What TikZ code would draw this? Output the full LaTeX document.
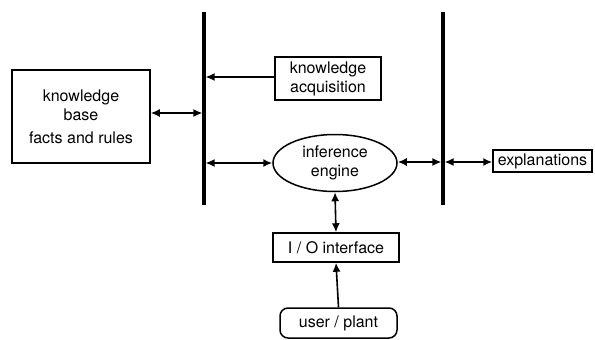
\documentclass[tikz,border=0pt]{standalone}
\usepackage{fontspec}
\setmainfont{TeX Gyre Heros}
\usetikzlibrary{arrows.meta}
\usetikzlibrary{shapes.geometric}

\begin{document}
\begin{tikzpicture}[x=1pt, y=-1pt,
	box/.style={draw, line width=1.5pt, align=center, inner sep=2pt,
		font=\fontsize{16}{19}\selectfont},
	engine/.style={box, ellipse, minimum width=124pt, minimum height=57pt},
	bar/.style={line width=3.2pt},
	link/.style={line width=1.6pt, {Latex[length=9pt,width=8pt]}-{Latex[length=9pt,width=8pt]}},
	feed/.style={line width=1.6pt, -{Latex[length=9pt,width=8pt]}}]

	\useasboundingbox (0,0) rectangle (595,340);

	% the two bus bars
	\coordinate (lbtop) at (204,12);
	\coordinate (lbbot) at (204,205);
	\coordinate (rbtop) at (443,12);
	\coordinate (rbbot) at (443,205);
	\draw[bar] (lbtop) -- (lbbot);
	\draw[bar] (rbtop) -- (rbbot);

	% blocks
	\node[box, minimum width=138pt, minimum height=93pt] (kb) at (81,116.5)
		{knowledge\\base\\[4pt]facts and rules};
	\node[box, minimum width=106pt, minimum height=43pt] (acq) at (328,78.5)
		{knowledge\\acquisition};
	\node[engine] (inf) at (335,163) {inference\\engine};
	\node[box, minimum width=99pt, minimum height=22pt] (expl) at (542.5,161)
		{explanations};
	\node[box, minimum width=126pt, minimum height=29pt] (io) at (336,247.5)
		{I / O interface};
	\node[box, rounded corners=8pt, minimum width=117pt, minimum height=30pt] (user)
		at (338.5,323) {user / plant};

	% where the connectors meet the bars
	\coordinate (kbL) at (202.4,113);
	\coordinate (acqL) at (205.6,77);
	\coordinate (infL) at (205.6,163);
	\coordinate (infR) at (441.4,162);
	\coordinate (explR) at (444.6,162);

	% connectors
	\draw[link] (kb.east |- kbL) -- (kbL);
	\draw[feed] (acq.west |- acqL) -- (acqL);
	\draw[link] (infL) -- (inf.west);
	\draw[link] (inf.east |- infR) -- (infR);
	\draw[link] (explR) -- (expl.west |- explR);
	\draw[link] (inf.south) -- (io.north);
	\draw[feed] (user.north) -- (io.south);

\end{tikzpicture}
\end{document}
